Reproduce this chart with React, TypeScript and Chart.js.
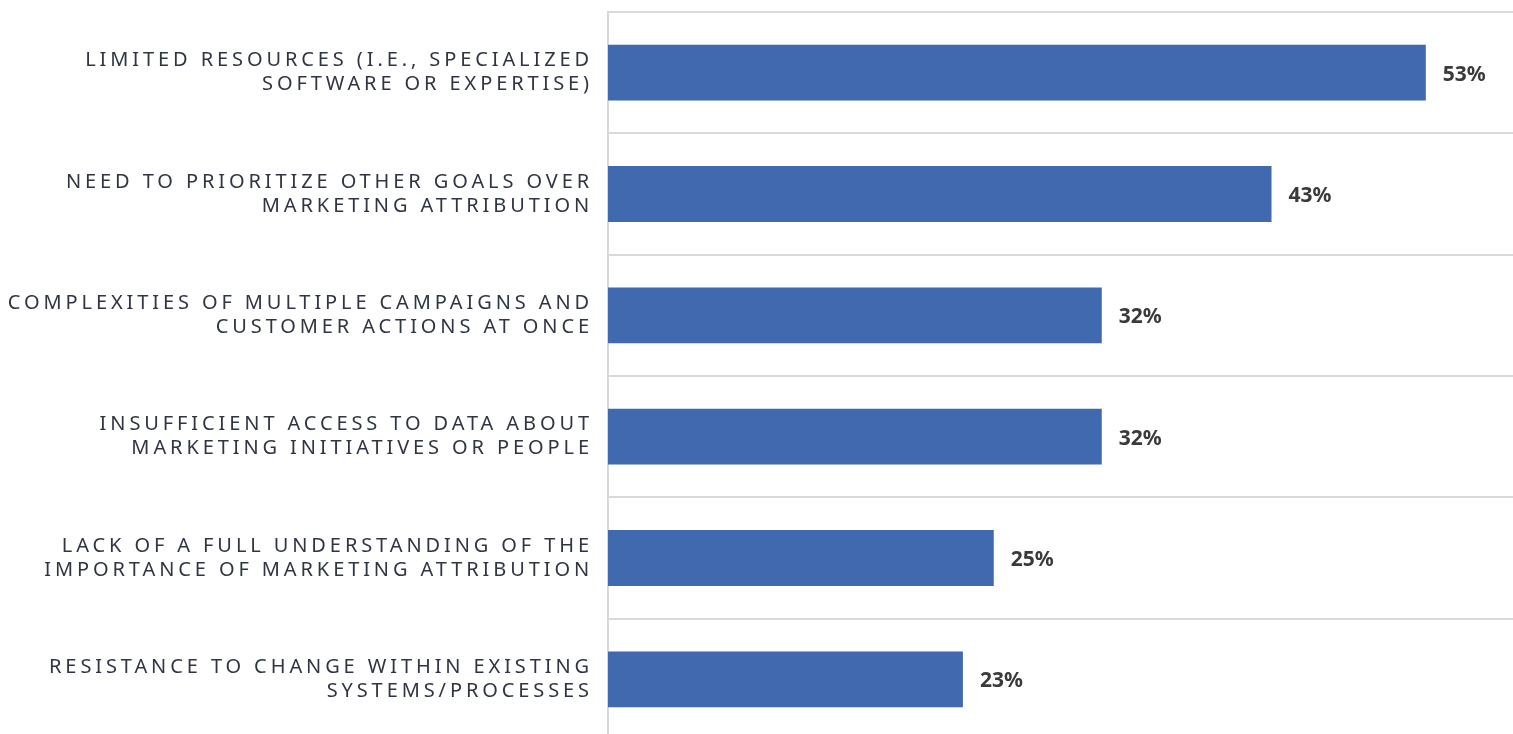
import React, { useEffect, useRef } from "react";
import { Chart, registerables } from "chart.js";

Chart.register(...registerables);

const categories: string[][] = [
  ["LIMITED RESOURCES (I.E., SPECIALIZED", "SOFTWARE OR EXPERTISE)"],
  ["NEED TO PRIORITIZE OTHER GOALS OVER", "MARKETING ATTRIBUTION"],
  ["COMPLEXITIES OF MULTIPLE CAMPAIGNS AND", "CUSTOMER ACTIONS AT ONCE"],
  ["INSUFFICIENT ACCESS TO DATA ABOUT", "MARKETING INITIATIVES OR PEOPLE"],
  ["LACK OF A FULL UNDERSTANDING OF THE", "IMPORTANCE OF MARKETING ATTRIBUTION"],
  ["RESISTANCE TO CHANGE WITHIN EXISTING", "SYSTEMS/PROCESSES"],
];
const values: number[] = [53, 43, 32, 32, 25, 23];
const valueLabels: string[] = ["53%", "43%", "32%", "32%", "25%", "23%"];

const FONT = "'Noto Sans', 'Open Sans', sans-serif";

export default function App() {
  const ref = useRef<HTMLCanvasElement | null>(null);

  useEffect(() => {
    const canvas = ref.current;
    if (!canvas) return;

    const letterSpacingPlugin = {
      id: "letterSpacing",
      beforeDraw(chart: any) {
        (chart.ctx as any).letterSpacing = "3.9px";
      },
      beforeDatasetsDraw(chart: any) {
        (chart.ctx as any).letterSpacing = "0px";
      },
    };

    const valueLabelPlugin = {
      id: "valueLabels",
      afterDatasetsDraw(chart: any) {
        const ctx = chart.ctx;
        const meta = chart.getDatasetMeta(0);
        ctx.save();
        (ctx as any).letterSpacing = "0px";
        ctx.font = `bold 21px ${FONT}`;
        ctx.fillStyle = "#3a3a3a";
        ctx.textAlign = "left";
        ctx.textBaseline = "middle";
        meta.data.forEach((bar: any, i: number) => {
          ctx.fillText(valueLabels[i], bar.x + 17, bar.y + 2);
        });
        ctx.restore();
      },
    };

    const chart = new Chart(canvas, {
      type: "bar",
      data: {
        labels: categories,
        datasets: [
          {
            data: values,
            backgroundColor: "#4169af",
            borderWidth: 0,
            barPercentage: 0.46,
            categoryPercentage: 1,
          },
        ],
      },
      options: {
        indexAxis: "y",
        animation: false,
        responsive: false,
        devicePixelRatio: 1,
        layout: { autoPadding: false, padding: { top: 12, bottom: 2, left: 0, right: 0 } },
        plugins: {
          legend: { display: false },
          tooltip: { enabled: false },
        },
        scales: {
          x: {
            min: 0,
            max: 58.65,
            display: false,
            grid: { display: false },
          },
          y: {
            afterFit(scale: any) {
              scale.width = 608;
              scale.paddingTop = 0;
              scale.paddingBottom = 0;
            },
            grid: {
              offset: true,
              color: "#d9d9d9",
              lineWidth: 2,
              drawTicks: false,
            },
            border: { display: true, color: "#d9d9d9", width: 2 },
            ticks: {
              padding: 15,
              color: "#2f3542",
              font: { family: FONT, size: 20, lineHeight: 1.2 },
            },
          },
        },
      },
      plugins: [letterSpacingPlugin, valueLabelPlugin],
    });

    return () => chart.destroy();
  }, []);

  return (
    <div
      style={{
        position: "fixed",
        left: 0,
        top: 0,
        width: 1513,
        height: 734,
        overflow: "hidden",
        background: "#fff",
      }}
    >
      <canvas ref={ref} width={1513} height={742} style={{ display: "block" }} />
    </div>
  );
}
